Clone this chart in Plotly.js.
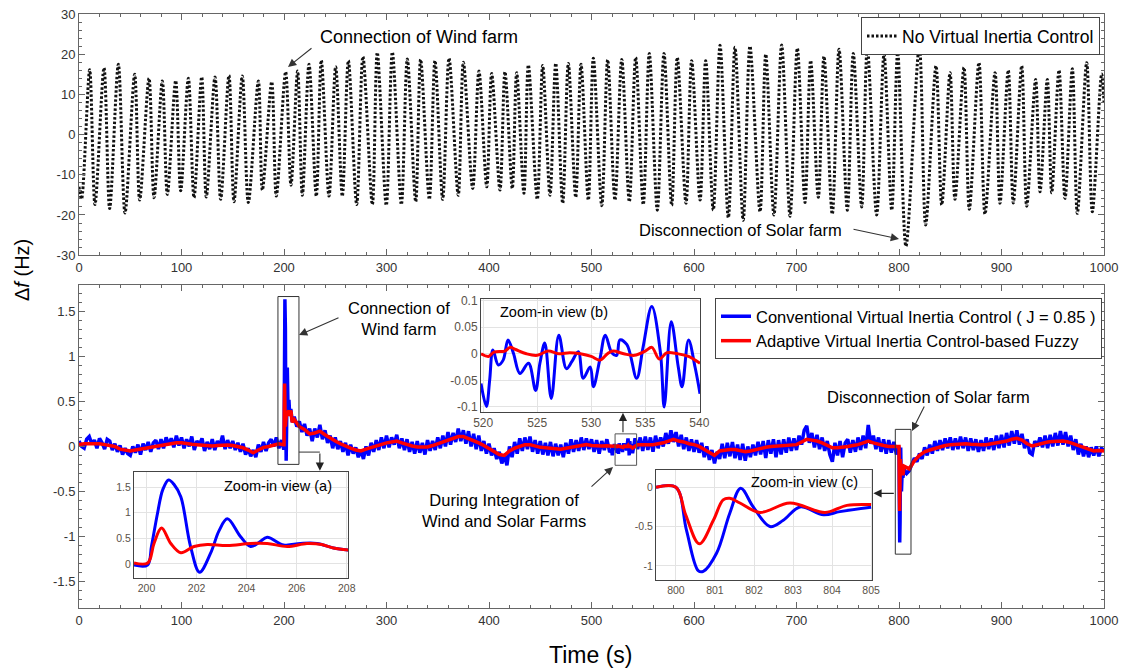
<!DOCTYPE html>
<html><head><meta charset="utf-8">
<script src="https://cdn.plot.ly/plotly-3.0.1.min.js"></script>
<style>html,body{margin:0;padding:0;background:#fff}#chart{width:1124px;height:670px}</style>
</head><body><div id="chart"></div>
<script>
// ---------- Top panel: No Virtual Inertia Control (peaks / troughs) ----------
const topT = [0, 2.5, 10.4, 15.6, 24.4, 29.9, 38.4, 44.9, 54.3, 59.2,
  68.3, 73.2, 81.3, 86.2, 94.3, 99.2, 106.7, 112.2, 119.7, 124.2,
  132.7, 138.2, 146.3, 151.2, 159.3, 165.2, 175, 178.9, 188, 192.5,
  201.6, 206.8, 213.3, 217.9, 224.4, 231.5, 236.4, 243.9, 250.4, 256.9,
  262.8, 270.9, 277, 286.2, 291, 299.8, 305.7, 314.5, 320.3, 328.5,
  333.3, 341.8, 347.3, 354.8, 361, 370, 375, 384.1, 390.2, 397.8,
  402.6, 410.7, 415.6, 422.7, 427, 434.1, 438.4, 447.1, 452.4, 459.5,
  465.1, 471.9, 477.4, 484.6, 489.8, 496.9, 501.8, 510, 515.8, 522.9,
  529.5, 536.9, 543.1, 550.5, 556.4, 564.2, 570.7, 578.2, 583.7, 592.2,
  597.7, 605.9, 611.4, 618.8, 625.4, 633.5, 640, 648, 654.6, 664.4,
  670, 678, 685.5, 693.7, 700.8, 708.3, 713.8, 721.3, 726.8, 734.9,
  741.5, 749.6, 755.4, 763.6, 769.1, 778.2, 785.4, 792.9, 798.7, 806.8,
  819.8, 826, 836.1, 841.7, 849.8, 854.6, 863.4, 868.6, 878, 883.9,
  893.7, 898.5, 906.6, 911.5, 919.7, 924.6, 933.3, 937.6, 944.7, 949,
  956.1, 962, 969.1, 974, 983.1, 988.6, 997.7, 1000];
const topV = [-13, -16, 16.1, -17.4, 16.6, -18.4, 17.5, -19.5, 15, -16.3,
  14, -15.7, 13.3, -14.9, 13.4, -14, 14, -15.7, 14.3, -15.5,
  14.3, -16.1, 14.7, -16.7, 14.6, -16.9, 13.3, -13.8, 13.1, -15.3,
  15.6, -12.6, 15.8, -15.1, 17.5, -15.3, 18.5, -15.3, 16.9, -15.3,
  18.4, -17.4, 19.4, -17.4, 20.4, -17.6, 20.5, -17.4, 18.8, -16.7,
  18.7, -16.1, 18.4, -16.1, 19, -15.1, 18, -13.4, 15.8, -13,
  15.2, -13.8, 15.6, -13.4, 15.4, -14.6, 17.3, -16.1, 17.2, -15.1,
  17.7, -17.1, 17.7, -15.6, 17.5, -16.3, 19, -17.7, 18.6, -16.3,
  18.7, -16.7, 19.2, -17.4, 20.2, -18.8, 20.2, -17.6, 19.2, -17.1,
  18.4, -16.3, 18.4, -18.8, 22.2, -20.7, 21.7, -21.3, 22, -19.2,
  20, -20, 22.3, -20.3, 21.5, -16.9, 18.4, -15.6, 19.5, -19.8,
  21.2, -18.8, 20.2, -18, 21.7, -20, 20, -18.8, 20.4, -27.8,
  21.9, -22.5, 17.1, -17.5, 15.4, -16.1, 16.7, -18.6, 17.9, -19.8,
  15.4, -17.1, 16, -17, 17.1, -17.8, 13.7, -14.2, 13.7, -14.5,
  16, -15.9, 16.4, -19.6, 17.9, -19.2, 15.1, 8];

// ---------- Bottom panel, adaptive (red): values every 5 s (t = 0,5,...,1000) ----------
const redGrid = [
  0.02, 0.03, 0.03, 0.03, 0.03, 0.02, 0.01, 0.0, -0.03, -0.04,
  -0.05, -0.04, -0.03, -0.02, -0.01, 0.0, 0.015, 0.02, 0.03, 0.04,
  0.04, 0.03, 0.025, 0.02, 0.015, 0.01, 0.005, 0.01, 0.015, 0.015,
  0.01, 0.0, -0.015, -0.04, -0.07, -0.04, -0.01, 0.0, 0.015, 0.03,
  0.02, 0.34, 0.30, 0.22, 0.19, 0.14, 0.15, 0.17, 0.13, 0.09,
  0.06, 0.03, 0.0, -0.02, -0.04, -0.05, -0.03, -0.01, 0.01, 0.03,
  0.04, 0.05, 0.06, 0.04, 0.02, 0.005, -0.005, -0.005, -0.005, 0.01,
  0.03, 0.05, 0.07, 0.09, 0.11, 0.11, 0.09, 0.07, 0.04, 0.01,
  -0.02, -0.05, -0.09, -0.1, -0.05, -0.02, 0.0, 0.02, 0.02, 0.0,
  -0.01, -0.015, -0.02, -0.025, -0.03, -0.02, -0.01, 0.0, 0.01, 0.02,
  0.01, 0.005, 0.004, 0.008, 0.0, 0.0, 0.0, 0.0, -0.01, 0.02,
  0.02, 0.02, 0.02, 0.03, 0.04, 0.06, 0.08, 0.06, 0.05, 0.03,
  0.02, 0.0, -0.03, -0.07, -0.1, -0.05, -0.04, -0.035, -0.035, -0.045,
  -0.06, -0.05, -0.035, -0.02, -0.01, 0.0, 0.005, 0.005, 0.01, 0.015,
  0.02, 0.05, 0.08, 0.07, 0.06, 0.04, 0.01, -0.015, -0.015, -0.01,
  0.0, 0.01, 0.02, 0.04, 0.06, 0.04, 0.02, 0.01, 0.0, -0.005,
  -0.01, -0.22, -0.25, -0.16, -0.1, -0.06, -0.04, -0.02, -0.01, 0.01,
  0.02, 0.025, 0.03, 0.03, 0.025, 0.02, 0.02, 0.02, 0.03, 0.04,
  0.05, 0.06, 0.08, 0.09, 0.07, 0.03, 0.005, 0.02, 0.04, 0.05,
  0.055, 0.06, 0.06, 0.05, 0.03, 0.005, -0.02, -0.04, -0.05, -0.045,
  -0.05];
// ---------- Bottom panel, conventional (blue): values every 2.5 s (t = 0,2.5,...,1000) ----------
const blueGrid = [
  0.06, 0.0, -0.02, 0.08, 0.11, 0.03, 0.07, -0.02, 0.09, 0.04, -0.03, 0.08, 0.06, -0.04, 0.03, -0.06, 0.01, -0.09, -0.02, -0.08,
  -0.1, 0.0, -0.07, 0.02, -0.09, 0.03, -0.04, 0.05, -0.06, 0.04, 0.07, -0.03, 0.08, -0.02, 0.1, 0.02, 0.09, -0.01, 0.12, 0.01,
  0.1, -0.02, 0.08, 0.0, 0.11, -0.04, 0.06, 0.02, 0.09, -0.05, 0.05, -0.03, 0.08, -0.04, 0.06, 0.01, 0.12, -0.03, 0.07, -0.02,
  0.06, -0.04, 0.04, -0.06, 0.03, -0.09, -0.02, -0.11, -0.04, -0.12, 0.02, -0.06, 0.05, -0.05, 0.04, 0.08, 0.0, 0.1, -0.02, 0.07,
  0.03, 0.5, 0.5, 0.3, 0.33, 0.22, 0.28, 0.16, 0.25, 0.12, 0.2, 0.06, 0.2, 0.1, 0.24, 0.08, 0.18, 0.04, 0.12, -0.02,
  0.1, -0.03, 0.06, -0.06, 0.04, -0.1, 0.02, -0.08, -0.01, -0.12, -0.04, -0.14, 0.0, -0.1, 0.04, -0.06, 0.07, -0.04, 0.1, -0.02,
  0.12, -0.01, 0.1, 0.02, 0.13, -0.02, 0.09, -0.04, 0.08, -0.06, 0.05, -0.08, 0.06, -0.07, 0.04, -0.09, 0.07, -0.05, 0.06, -0.04,
  0.1, -0.02, 0.12, 0.0, 0.16, 0.02, 0.15, 0.05, 0.2, 0.06, 0.18, 0.03, 0.17, 0.0, 0.14, -0.03, 0.12, -0.05, 0.06, -0.08,
  0.03, -0.1, -0.02, -0.14, -0.06, -0.19, -0.1, -0.21, 0.0, -0.12, 0.05, -0.08, 0.09, -0.05, 0.1, -0.03, 0.11, -0.06, 0.07, -0.08,
  0.06, -0.09, 0.04, -0.1, 0.05, -0.11, 0.03, -0.1, 0.02, -0.12, 0.04, -0.08, 0.08, -0.06, 0.07, -0.05, 0.1, -0.04, 0.09, -0.03,
  0.08, -0.06, 0.07, -0.08, 0.06, -0.04, 0.08, -0.05, -0.06, 0.0, -0.02, -0.03, -0.03, 0.02, 0.0, -0.05, -0.07, 0.09, -0.03, 0.1,
  -0.05, 0.11, -0.04, 0.1, -0.06, 0.12, -0.02, 0.1, 0.0, 0.15, 0.03, 0.18, 0.05, 0.16, 0.0, 0.13, -0.03, 0.1, -0.05, 0.08,
  -0.06, 0.07, -0.07, 0.04, -0.12, 0.0, -0.15, -0.04, -0.19, -0.06, -0.14, 0.03, -0.13, 0.04, -0.11, 0.05, -0.13, 0.02, -0.15, 0.03,
  -0.16, 0.0, -0.12, 0.02, -0.1, 0.05, -0.09, 0.06, -0.13, 0.07, -0.08, 0.08, -0.12, 0.07, -0.09, 0.08, -0.07, 0.1, -0.05, 0.09,
  -0.04, 0.12, 0.02, 0.18, 0.23, 0.04, 0.15, -0.01, 0.13, -0.03, 0.1, -0.05, 0.06, -0.09, -0.17, 0.04, -0.1, 0.06, -0.12, 0.04,
  0.08, -0.07, 0.07, -0.06, 0.1, -0.04, 0.12, -0.02, 0.24, 0.03, 0.12, -0.03, 0.1, -0.06, 0.08, -0.08, 0.07, -0.07, 0.05, -0.09,
  0.0, -0.5, -0.26, -0.3, -0.27, -0.2, -0.13, -0.17, -0.08, -0.14, -0.01, -0.1, 0.02, -0.08, 0.06, -0.05, 0.07, -0.04, 0.09, -0.02,
  0.1, -0.04, 0.09, -0.03, 0.11, -0.02, 0.1, -0.05, 0.09, -0.04, 0.08, -0.06, 0.07, -0.05, 0.1, -0.03, 0.09, -0.04, 0.12, -0.02,
  0.13, -0.01, 0.15, 0.01, 0.17, 0.03, 0.18, 0.02, 0.14, -0.02, 0.08, -0.07, -0.09, 0.06, 0.0, 0.1, -0.01, 0.12, -0.02, 0.13,
  0.0, 0.15, 0.01, 0.17, 0.02, 0.16, 0.0, 0.12, -0.04, 0.08, -0.09, 0.03, -0.11, 0.0, -0.12, -0.01, -0.1, 0.0, -0.11, -0.02,
  -0.04];

// Event (a): connection of wind farm
const aBlueT = [199.5, 200.04, 200.2, 200.44, 200.65, 200.88, 201.1, 201.37, 201.76, 202.12, 202.56, 202.9, 203.23, 203.76, 204.16, 204.5, 204.82, 205.48, 206.15, 206.81, 207.47, 208.07];
const aBlueV = [-0.02, -0.02, 0.35, 0.99, 1.45, 1.64, 1.55, 1.31, 0.34, -0.16, 0.21, 0.65, 0.88, 0.53, 0.34, 0.42, 0.52, 0.37, 0.40, 0.40, 0.31, 0.27];
const aRedT = [199.5, 200.05, 200.3, 200.6, 200.97, 201.37, 201.9, 202.43, 203.23, 204.16, 204.82, 205.62, 206.41, 207.0, 207.47, 208.07];
const aRedV = [0.02, 0.02, 0.4, 0.70, 0.40, 0.22, 0.34, 0.38, 0.36, 0.40, 0.40, 0.34, 0.40, 0.38, 0.31, 0.27];
// Event (b): during integration of wind and solar farms
const bBlueT = [519.8, 520.3, 520.6, 520.9, 521.4, 521.85, 522.3, 522.8, 523.4, 524.2, 524.85, 525.25, 525.7, 526.3, 527.0, 527.7, 528.2, 528.8, 529.26, 529.9, 530.2, 530.8, 531.3, 531.9, 532.35, 532.65, 533.3, 534.2, 534.8, 535.6, 536.4, 536.75, 537.4, 538.05, 538.4, 539.0, 539.6, 540.06];
const bBlueV = [-0.056, -0.099, -0.05, 0.007, -0.021, -0.012, 0.026, 0.001, -0.037, -0.018, -0.069, -0.018, 0.02, -0.084, 0.035, -0.028, -0.015, 0.004, -0.046, -0.025, -0.062, -0.01, 0.035, 0.002, -0.003, 0.026, 0.017, -0.046, 0.013, 0.089, 0.002, -0.1, 0.06, -0.025, -0.062, 0.026, -0.025, -0.075];
const bRedT = [519.8, 520.5, 521, 522, 522.5, 523, 524, 525, 526, 527, 528, 529, 530, 530.8, 531.5, 532, 533, 534, 535, 535.6, 536.3, 537, 538, 539, 540.06];
const bRedV = [0.0, -0.005, 0.003, 0.005, 0.012, 0.008, 0.0, -0.003, 0.005, 0.0, 0.002, 0.0, -0.005, -0.012, 0.0, 0.005, 0.0, -0.003, 0.005, 0.012, -0.01, 0.002, 0.0, -0.005, -0.018];
// Event (c): disconnection of solar farm
const cBlueT = [799.49, 800.0, 800.27, 800.57, 800.7, 801.04, 801.38, 801.66, 801.98, 802.41, 802.75, 803.18, 803.78, 804.2, 805.0];
const cBlueV = [0, 0, -0.545, -1.06, -1.07, -0.84, -0.33, -0.013, -0.25, -0.50, -0.42, -0.25, -0.35, -0.31, -0.255];
const cRedT = [799.49, 800.0, 800.25, 800.6, 800.96, 801.21, 801.38, 801.64, 802.15, 802.92, 803.82, 804.38, 805.0];
const cRedV = [0, 0, -0.35, -0.72, -0.42, -0.16, -0.14, -0.20, -0.32, -0.20, -0.32, -0.23, -0.22];

// tick labels
const xTicks = [0,100,200,300,400,500,600,700,800,900,1000];
const topYTicks = [-30,-20,-10,0,10,20,30];
const topYText = ['-30','-20','-10','0','10','20','30'];
const botYTicks = [-1.5,-1,-0.5,0,0.5,1,1.5];
const botYText = ['-1.5','-1','-0.5','0','0.5','1','1.5'];
const aXTicks = [200,202,204,206,208], aYTicks = [0,0.5,1,1.5], aYText = ['0','0.5','1','1.5'];
const bXTicks = [520,525,530,535,540], bYTicks = [-0.1,-0.05,0,0.05,0.1], bYText = ['-0.1','-0.05','0','0.05','0.1'];
const cXTicks = [800,801,802,803,804,805], cYTicks = [-1,-0.5,0], cYText = ['-1','-0.5','0'];

// ---------- build ----------
function grid(step) { const g = []; for (let i = 0; i * step <= 1000; i++) g.push(i * step); return g; }
function mergeSeries(gT, gV, events) {
  const pts = [];
  gT.forEach((t, i) => { if (!events.some(e => t >= e.t[0] && t <= e.t[e.t.length - 1])) pts.push([t, gV[i]]); });
  events.forEach(e => e.t.forEach((t, i) => pts.push([t, e.v[i]])));
  pts.sort((a, b) => a[0] - b[0]);
  return {x: pts.map(p => p[0]), y: pts.map(p => p[1])};
}
const blueAll = mergeSeries(grid(2.5), blueGrid, [{t: aBlueT, v: aBlueV}, {t: bBlueT, v: bBlueV}, {t: cBlueT, v: cBlueV}]);
const redAll = mergeSeries(grid(5), redGrid, [{t: aRedT, v: aRedV}, {t: bRedT, v: bRedV}, {t: cRedT, v: cRedV}]);

const BLUE = '#0000ff', RED = '#ff0000';
const FONT = 'Liberation Sans, Arial, sans-serif';
const PX = p => (p - 79) / 1025;
const PY = p => (608 - p) / 594;

const traces = [
  {x: topT, y: topV, xaxis: 'x', yaxis: 'y', mode: 'lines', name: 'No Virtual Inertia Control',
   line: {color: '#111', width: 3, dash: '2.5px,2px', shape: 'spline', smoothing: 0.9}, legend: 'legend'},
  {x: blueAll.x, y: blueAll.y, xaxis: 'x2', yaxis: 'y2', mode: 'lines', name: 'Conventional Virtual Inertia Control ( J = 0.85 )',
   line: {color: BLUE, width: 3.5}, legend: 'legend2'},
  {x: redAll.x, y: redAll.y, xaxis: 'x2', yaxis: 'y2', mode: 'lines', name: 'Adaptive Virtual Inertia Control-based Fuzzy',
   line: {color: RED, width: 3.5}, legend: 'legend2'},
  {x: aBlueT, y: aBlueV, xaxis: 'x3', yaxis: 'y3', mode: 'lines', showlegend: false, line: {color: BLUE, width: 3, shape: 'spline'}},
  {x: aRedT, y: aRedV, xaxis: 'x3', yaxis: 'y3', mode: 'lines', showlegend: false, line: {color: RED, width: 3, shape: 'spline'}},
  {x: bBlueT, y: bBlueV, xaxis: 'x4', yaxis: 'y4', mode: 'lines', showlegend: false, line: {color: BLUE, width: 3, shape: 'spline'}},
  {x: bRedT, y: bRedV, xaxis: 'x4', yaxis: 'y4', mode: 'lines', showlegend: false, line: {color: RED, width: 3, shape: 'spline'}},
  {x: cBlueT, y: cBlueV, xaxis: 'x5', yaxis: 'y5', mode: 'lines', showlegend: false, line: {color: BLUE, width: 3, shape: 'spline'}},
  {x: cRedT, y: cRedV, xaxis: 'x5', yaxis: 'y5', mode: 'lines', showlegend: false, line: {color: RED, width: 3, shape: 'spline'}}
];

function mainAx(extra) {
  return Object.assign({showline: true, linecolor: '#666', linewidth: 1, mirror: 'ticks', ticks: 'inside',
    ticklen: 6, tickcolor: '#666', showgrid: false, zeroline: false,
    tickfont: {size: 13, color: '#333', family: FONT}, fixedrange: true}, extra);
}
function insetAx(extra) {
  return Object.assign({showline: true, linecolor: '#444', linewidth: 1, mirror: true, ticks: '',
    showgrid: true, gridcolor: '#e3e3e3', gridwidth: 1, zeroline: false,
    tickfont: {size: 10.5, color: '#5a5248', family: FONT}, fixedrange: true}, extra);
}

const arrowBase = {showarrow: true, arrowhead: 2, arrowsize: 1.5, arrowwidth: 1.1, arrowcolor: '#222', standoff: 0, startstandoff: 0};
const txt = (text, px, py, size, extra) => Object.assign({text: text, x: PX(px), y: PY(py), xref: 'paper', yref: 'paper',
  xanchor: 'center', yanchor: 'middle',
  showarrow: false, font: {size: size, color: '#000', family: FONT}, align: 'center'}, extra || {});
const arr = (tipx, tipy, tailx, taily) => Object.assign({}, arrowBase, {x: PX(tipx), y: PY(tipy), xref: 'paper', yref: 'paper',
  ax: tailx - tipx, ay: taily - tipy, text: '', arrowcolor: '#333'});

const annotations = [
  txt('Connection of Wind farm', 419, 37, 18),
  arr(288, 67, 313, 47),
  txt('Disconnection of Solar farm', 740, 230, 16.5),
  arr(899, 239, 852, 229),
  txt('Connection of<br>Wind farm', 399, 318, 16.5),
  arr(299, 335, 340, 317),
  txt('During Integration of<br>Wind and Solar Farms', 504, 510, 16.5),
  arr(613, 467, 590, 488),
  txt('Disconnection of Solar farm', 928, 397, 16.5),
  arr(912, 431, 925, 405),
  txt('Zoom-in view (a)', 278, 486, 14.5),
  txt('Zoom-in view (b)', 554, 312, 14.5),
  txt('Zoom-in view (c)', 804, 482, 14.5),
  txt('\u0394<i>f</i> (Hz)', 22, 270, 20, {textangle: -90}),
  txt('Time (s)', 590, 655, 23),
  // connectors to zoom-in views
  Object.assign({}, arrowBase, {xref: 'x2', yref: 'y2', axref: 'x2', ayref: 'y2', x: 235, y: -0.272, ax: 235, ay: -0.063, text: ''}),
  Object.assign({}, arrowBase, {xref: 'x2', yref: 'y2', axref: 'x2', ayref: 'y2', x: 530.7, y: 0.375, ax: 530.7, ay: 0.14, text: ''}),
  Object.assign({}, arrowBase, {xref: 'x2', yref: 'y2', axref: 'x2', ayref: 'y2', x: 775, y: -0.523, ax: 796.4, ay: -0.523, text: ''})
];

const shapes = [
  {type: 'rect', xref: 'x2', yref: 'y2', x0: 194.1, x1: 214.6, y0: -0.2, y1: 1.67, line: {color: '#333', width: 1}},
  {type: 'rect', xref: 'x2', yref: 'y2', x0: 523, x1: 544, y0: -0.21, y1: 0.14, line: {color: '#555', width: 1}},
  {type: 'rect', xref: 'x2', yref: 'y2', x0: 796.4, x1: 811.7, y0: -1.2, y1: 0.19, line: {color: '#333', width: 1}},
  {type: 'line', xref: 'x2', yref: 'y2', x0: 214.6, x1: 235, y0: -0.063, y1: -0.063, line: {color: '#333', width: 1}}
];

const layout = {
  width: 1124, height: 670,
  margin: {l: 79, r: 20, t: 14, b: 62},
  paper_bgcolor: '#fff', plot_bgcolor: '#fff',
  font: {family: FONT, color: '#000'},
  showlegend: true,
  legend: {x: PX(1100), xanchor: 'right', y: PY(17), yanchor: 'top', bgcolor: '#fff', bordercolor: '#444', borderwidth: 1,
    font: {size: 17.5, family: FONT, color: '#000'}, itemwidth: 30, tracegroupgap: 0},
  legend2: {x: PX(1102), xanchor: 'right', y: PY(298), yanchor: 'top', bgcolor: '#fff', bordercolor: '#444', borderwidth: 1,
    font: {size: 16.5, family: FONT, color: '#000'}, itemwidth: 30, tracegroupgap: 0},
  xaxis: mainAx({domain: [0, 1], anchor: 'y', range: [0, 1000], tickvals: xTicks,
    minor: {dtick: 20, tick0: 0, ticks: 'inside', ticklen: 3, tickcolor: '#666'}}),
  yaxis: mainAx({domain: [0.594, 1], anchor: 'x', range: [-30, 30], tickvals: topYTicks, ticktext: topYText,
    minor: {dtick: 2, tick0: 0, ticks: 'inside', ticklen: 3, tickcolor: '#666'}}),
  xaxis2: mainAx({domain: [0, 1], anchor: 'y2', range: [0, 1000], tickvals: xTicks,
    minor: {dtick: 20, tick0: 0, ticks: 'inside', ticklen: 3, tickcolor: '#666'}}),
  yaxis2: mainAx({domain: [0, 0.544], anchor: 'x2', range: [-1.8, 1.8], tickvals: botYTicks, ticktext: botYText,
    minor: {dtick: 0.1, tick0: 0, ticks: 'inside', ticklen: 3, tickcolor: '#666'}}),
  xaxis3: insetAx({domain: [PX(134), PX(348)], anchor: 'y3', range: [199.5, 208.05], tickvals: aXTicks}),
  yaxis3: insetAx({domain: [PY(578.3), PY(471.7)], anchor: 'x3', range: [-0.28, 1.8], tickvals: aYTicks, ticktext: aYText}),
  xaxis4: insetAx({domain: [PX(481), PX(700)], anchor: 'y4', range: [519.8, 540.06], tickvals: bXTicks,
    tickfont: {size: 12, color: '#5a5248', family: FONT}}),
  yaxis4: insetAx({domain: [PY(411.7), PY(299)], anchor: 'x4', range: [-0.109, 0.103], tickvals: bYTicks, ticktext: bYText,
    tickfont: {size: 12, color: '#5a5248', family: FONT}}),
  xaxis5: insetAx({domain: [PX(656), PX(872.3)], anchor: 'y5', range: [799.49, 805.03], tickvals: cXTicks}),
  yaxis5: insetAx({domain: [PY(580), PY(470)], anchor: 'x5', range: [-1.18, 0.22], tickvals: cYTicks, ticktext: cYText}),
  annotations: annotations,
  shapes: shapes
};

Plotly.newPlot('chart', traces, layout, {displayModeBar: false, staticPlot: true});
</script></body></html>
